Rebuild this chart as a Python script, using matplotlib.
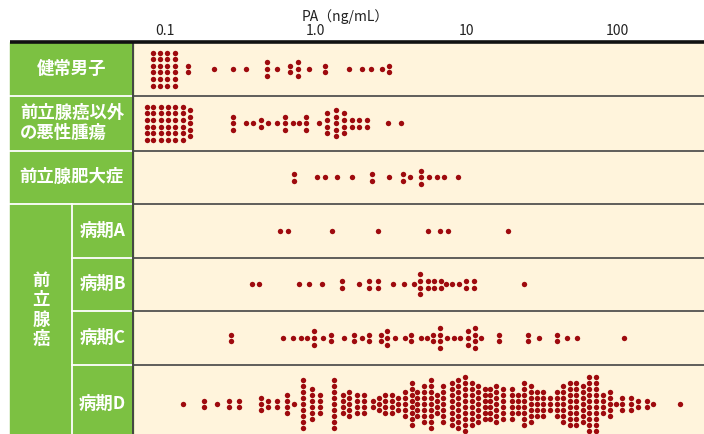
import numpy as np
import matplotlib.pyplot as plt
from matplotlib.patches import Rectangle
from matplotlib.ticker import NullLocator

plt.rcParams['font.family'] = ['Noto Sans CJK JP', 'DejaVu Sans']

# labels
row_labels = ['健常男子', '前立腺癌以外\nの悪性腫瘍', '前立腺肥大症', '病期A', '病期B', '病期C', '病期D']
group_label = '前立腺癌'
tick_values = [0.1, 1, 10, 100]
tick_labels = ['0.1', '1.0', '10', '100']
axis_label = 'PA（ng/mL）'

# PA value of each dot column (ng/mL) and the number of cases stacked in it
healthy_pa = [0.0829, 0.0927, 0.1035, 0.1165, 0.1415, 0.212, 0.284, 0.343, 0.473, 0.556,
              0.675, 0.760, 0.907, 1.153, 1.663, 2.038, 2.317, 2.742, 3.064]
healthy_n = [6, 6, 6, 6, 2, 1, 1, 1, 3, 1, 2, 3, 1, 2, 1, 1, 1, 1, 2]

other_cancer_pa = [0.0756, 0.0836, 0.0936, 0.1047, 0.1170, 0.1310, 0.1465, 0.284, 0.343, 0.385,
                   0.4315, 0.4847, 0.556, 0.6255, 0.7036, 0.778, 0.862, 1.057, 1.183, 1.364,
                   1.541, 1.733, 1.929, 2.180, 3.032, 3.665]
other_cancer_n = [6, 6, 6, 6, 6, 6, 5, 3, 1, 1, 2, 1, 1, 3, 1, 1, 3, 1, 4, 5, 4, 2, 2, 2, 1, 1]

bph_pa = [0.713, 1.015, 1.147, 1.395, 1.747, 2.364, 3.055, 3.778, 4.250, 4.998, 5.682, 6.353, 7.070, 8.838]
bph_n = [2, 1, 1, 1, 1, 2, 1, 2, 1, 3, 1, 1, 1, 1]

stage_a_pa = [0.577, 0.656, 1.283, 2.583, 5.588, 6.651, 7.560, 18.91]
stage_a_n = [1, 1, 1, 1, 1, 1, 1, 1]

stage_b_pa = [0.377, 0.419, 0.776, 0.908, 1.098, 1.485, 1.941, 2.258, 2.583, 3.249, 3.867,
              4.470, 4.944, 5.529, 6.114, 6.764, 7.311, 8.037, 8.892, 10.0, 11.30, 23.93]
stage_b_n = [1, 1, 1, 1, 1, 2, 1, 2, 2, 1, 1, 1, 4, 2, 2, 2, 1, 1, 1, 2, 2, 1]

stage_c_pa = [0.273, 0.603, 0.709, 0.794, 0.882, 0.970, 1.116, 1.263, 1.543, 1.806, 2.029, 2.258,
              2.700, 2.954, 3.380, 3.932, 4.270, 4.967, 5.495, 6.012, 6.722, 7.390, 8.225, 9.098,
              10.28, 11.37, 12.45, 16.46, 25.60, 30.10, 40.06, 46.81, 53.87, 111.3]
stage_c_n = [2, 1, 1, 1, 1, 3, 1, 2, 1, 2, 1, 2, 2, 3, 1, 1, 2, 1, 1, 2, 4, 1, 1, 1,
             3, 4, 1, 2, 2, 1, 2, 1, 1, 1]

stage_d_pa = [0.1323, 0.1815, 0.2223, 0.2672, 0.3112, 0.4315, 0.4847, 0.551, 0.642, 0.721,
              0.827, 0.941, 1.068, 1.329, 1.513, 1.669, 1.879, 2.098, 2.411, 2.630,
              2.870, 3.224, 3.533, 3.896, 4.336, 4.680, 5.248, 5.796, 6.353, 7.026,
              7.989, 8.838, 9.745, 10.84, 11.90, 13.19, 14.35, 15.82, 17.47, 20.07,
              22.11, 24.12, 26.72, 29.54, 32.38, 35.87, 39.75, 43.56, 48.41, 53.38,
              59.14, 64.62, 72.91, 81.00, 89.74, 98.35, 108.3, 123.1, 136.6, 157.2,
              172.3, 261.5]
stage_d_n = [1, 2, 1, 2, 2, 3, 2, 2, 4, 1,
             9, 6, 4, 9, 4, 5, 4, 4, 2, 3,
             4, 4, 3, 5, 8, 5, 7, 9, 4, 7,
             8, 9, 10, 8, 7, 6, 6, 7, 6, 6,
             4, 8, 7, 5, 5, 3, 5, 7, 8, 8,
             7, 10, 10, 4, 5, 1, 3, 3, 2, 2,
             1, 1]

rows = [(healthy_pa, healthy_n), (other_cancer_pa, other_cancer_n), (bph_pa, bph_n),
        (stage_a_pa, stage_a_n), (stage_b_pa, stage_b_n), (stage_c_pa, stage_c_n),
        (stage_d_pa, stage_d_n)]

# layout in pixels (figure is 704 x 434)
W, H = 704, 434
left, split, plot_left, top = 10, 72, 133, 42
edges = [42, 96, 150.5, 204, 257.5, 311, 365, 443]
steps = [6.6, 6.6, 6.6, 6.6, 6.6, 6.6, 6.1]
green = '#7CC142'
cream = '#FFF4DC'
dot_color = '#9E0A0E'
line_color = '#444444'

fig = plt.figure(figsize=(7.04, 4.34), dpi=100)

ax = fig.add_axes([plot_left / W, 0, (W - plot_left) / W, (H - top) / H])
ax.set_facecolor(cream)
ax.set_xscale('log')
ax.set_xlim(10 ** ((plot_left - 315.7) / 150.7), 10 ** ((W - 315.7) / 150.7))
ax.set_ylim(H, top)

for i, (pa, n) in enumerate(rows):
    center = (edges[i] + edges[i + 1]) / 2
    xs, ys = [], []
    for v, c in zip(pa, n):
        offs = (np.arange(c) - (c - 1) / 2) * steps[i]
        xs += [v] * c
        ys += list(center + offs)
    ax.scatter(xs, ys, s=15, color=dot_color, linewidths=0, zorder=3)

ax.xaxis.tick_top()
ax.set_xticks(tick_values)
ax.set_xticklabels(tick_labels)
ax.xaxis.set_minor_locator(NullLocator())
ax.tick_params(axis='x', length=0, pad=3, labelsize=10, colors='#222222')
ax.set_yticks([])
for s in ax.spines.values():
    s.set_visible(False)

# table frame and labels on top
bg = fig.add_axes([0, 0, 1, 1], zorder=3)
bg.set_xlim(0, W)
bg.set_ylim(H, 0)
bg.axis('off')
bg.patch.set_visible(False)

bg.add_patch(Rectangle((left, top), plot_left - left, H - top + 10, color=green, zorder=1))

for y in edges[1:-1]:
    bg.plot([plot_left, W], [y, y], color=line_color, lw=1.2, zorder=2)
for y in edges[1:4]:
    bg.plot([left, plot_left], [y, y], color='white', lw=1.3, zorder=2)
for y in edges[4:7]:
    bg.plot([split, plot_left], [y, y], color='white', lw=1.3, zorder=2)
bg.plot([split, split], [edges[3], H + 5], color='white', lw=1.3, zorder=2)
bg.plot([plot_left, plot_left], [top, H + 5], color=line_color, lw=1.4, zorder=2)
bg.plot([left, W], [top, top], color='#111111', lw=2.6, zorder=3, solid_capstyle='butt')

for i, lab in enumerate(row_labels):
    cy = (edges[i] + edges[i + 1]) / 2
    if i == 1:
        bg.text(20, cy, lab, ha='left', va='center', color='white', fontsize=12.5,
                fontweight='bold', linespacing=1.15)
    elif i < 3:
        bg.text((left + plot_left) / 2, cy, lab, ha='center', va='center', color='white',
                fontsize=12.5, fontweight='bold')
    else:
        bg.text((split + plot_left) / 2, cy, lab, ha='center', va='center', color='white',
                fontsize=12.5, fontweight='bold')

bg.text((left + split) / 2, 310, '\n'.join(group_label), ha='center', va='center',
        color='white', fontsize=12.5, fontweight='bold', linespacing=1.1)

bg.text(345, 17, axis_label, ha='center', va='center', fontsize=10, color='#222222')

fig.savefig('out.png', dpi=100)
